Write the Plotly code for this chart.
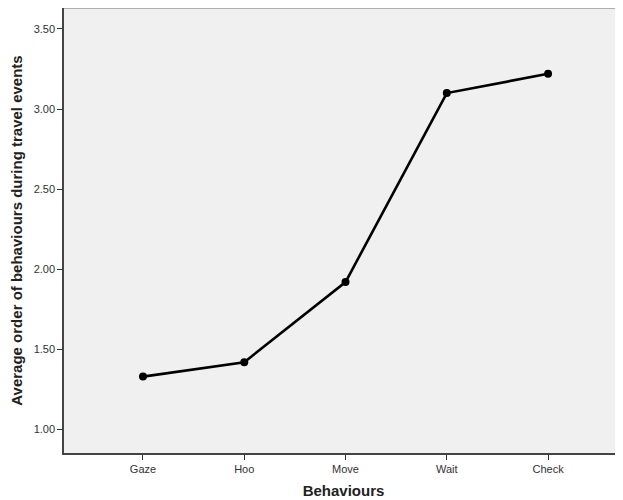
import plotly.graph_objects as go

behaviours = ["Gaze", "Hoo", "Move", "Wait", "Check"]
avg_order = [1.33, 1.42, 1.92, 3.10, 3.22]
y_ticks = [1.0, 1.5, 2.0, 2.5, 3.0, 3.5]

fig = go.Figure()
fig.add_trace(go.Scatter(
    x=list(range(len(behaviours))),
    y=avg_order,
    mode="lines+markers",
    line=dict(color="black", width=2.6),
    marker=dict(color="black", size=8),
    showlegend=False,
    hoverinfo="skip",
))

fig.update_layout(
    width=615, height=492,
    margin=dict(l=56, r=0, t=0, b=47),
    paper_bgcolor="white",
    plot_bgcolor="#f0f0f0",
    font=dict(family="Liberation Sans, Arial, sans-serif", color="#333333"),
    xaxis=dict(
        range=[-0.78, 4.74],
        tickmode="array",
        tickvals=list(range(len(behaviours))),
        ticktext=behaviours,
        ticks="outside", ticklen=5, tickwidth=1.2, tickcolor="#333333",
        showgrid=False, zeroline=False,
        showline=True, linecolor="#444444", linewidth=1.5,
        tickfont=dict(size=11, color="#333333"),
        title=dict(text="<b>Behaviours</b>", font=dict(size=15, color="#222222"), standoff=12),
    ),
    yaxis=dict(
        range=[0.853, 3.631],
        tickmode="array",
        tickvals=y_ticks,
        ticktext=[f"{v:.2f}" for v in y_ticks],
        ticks="outside", ticklen=5, tickwidth=1.2, tickcolor="#333333",
        showgrid=False, zeroline=False,
        showline=True, linecolor="#444444", linewidth=1.5,
        tickfont=dict(size=11, color="#333333"),
        title=dict(text="<b>Average order of behaviours during travel events</b>",
                   font=dict(size=15, color="#222222"), standoff=8),
    ),
    shapes=[dict(type="line", xref="paper", yref="paper", x0=0, x1=1, y0=1, y1=1,
                 line=dict(color="#999999", width=1.5))],
)

fig.write_html("out.html")
